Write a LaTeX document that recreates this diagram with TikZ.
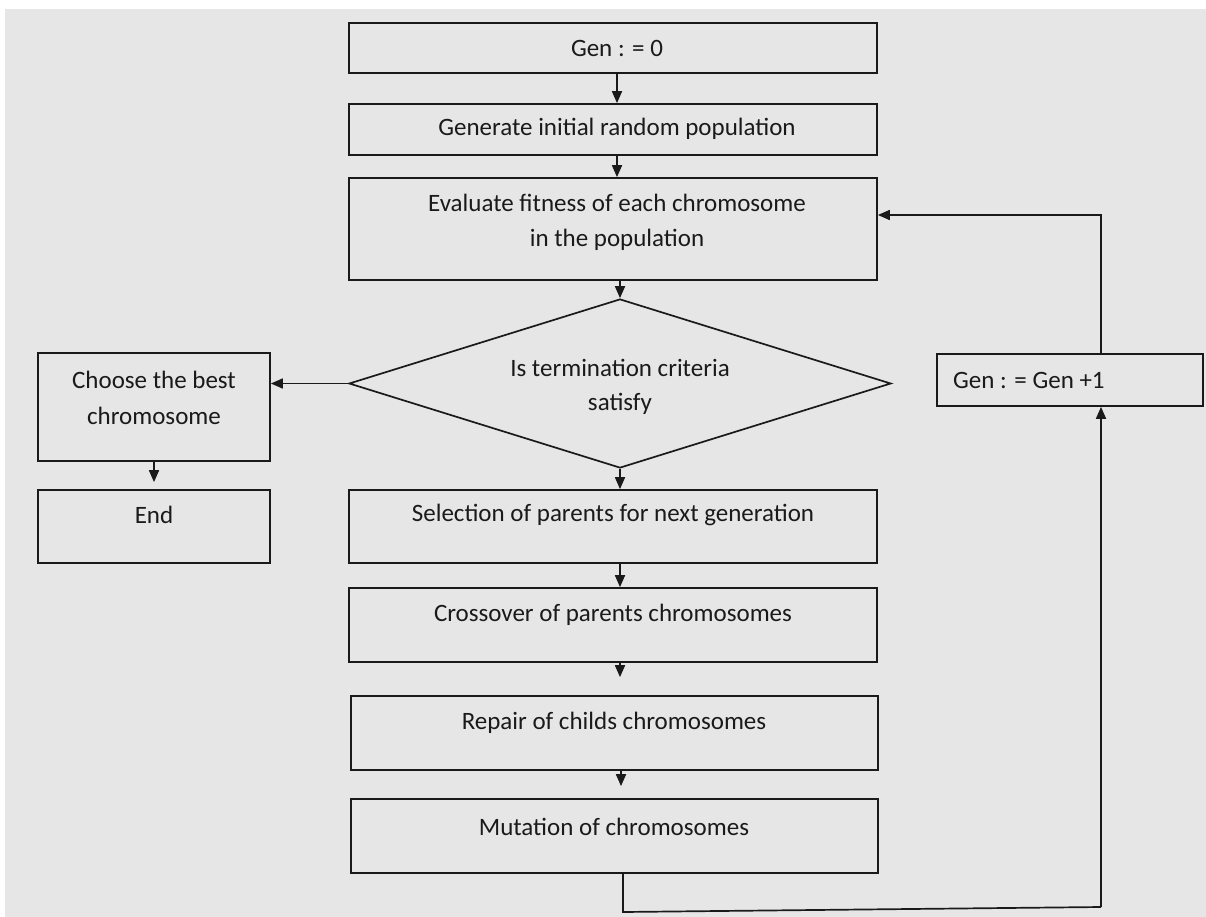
\documentclass[tikz,border=0pt]{standalone}
\usepackage{fontspec}
\setmainfont{Carlito}
\usetikzlibrary{arrows.meta,shapes.geometric,calc}
\definecolor{bggray}{HTML}{E6E6E6}
\definecolor{ink}{HTML}{1A1A1A}
\begin{document}
\begin{tikzpicture}[x=1pt,y=-1pt,
  box/.style={draw=ink, line width=1.7pt, rectangle, inner sep=0pt},
  txt/.style={font=\fontsize{25}{30}\selectfont, text=ink, inner sep=0pt, anchor=center},
  conn/.style={draw=ink, line width=1.7pt, -{Triangle[width=10pt,length=12pt]}},
  plain/.style={draw=ink, line width=1.7pt}]
\useasboundingbox (0,0) rectangle (1206,917);
\fill[white] (0,0) rectangle (1206,917);
\fill[bggray] (5,9) rectangle (1206,917);
% boxes
\node[box, minimum width=528pt, minimum height=50pt] (gen0) at (613,48) {};
\node[box, minimum width=528pt, minimum height=51pt] (init) at (613,129.5) {};
\node[box, minimum width=528pt, minimum height=102pt] (eval) at (613,229) {};
\node[box, shape=diamond, aspect=3.2, minimum width=542pt, minimum height=169pt, inner sep=0pt] (dec) at (620,383.5) {};
\node[box, minimum width=232pt, minimum height=108pt] (best) at (154,407) {};
\node[box, minimum width=232pt, minimum height=73pt] (endb) at (154,526.5) {};
\node[box, minimum width=528pt, minimum height=73pt] (sel) at (613,526.5) {};
\node[box, minimum width=528pt, minimum height=74pt] (cross) at (613,625) {};
\node[box, minimum width=527pt, minimum height=74pt] (rep) at (614.5,733) {};
\node[box, minimum width=527pt, minimum height=74pt] (mut) at (614.5,836) {};
\node[box, minimum width=266pt, minimum height=52pt] (inc) at (1070,380) {};
% texts
\node[txt] (t0) at (617,48) {Gen : = 0};
\node[txt] (t1) at (617,129) {Generate initial random population};
\node[txt] (t2a) at (617,203) {Evaluate fitness of each chromosome};
\node[txt] (t2b) at (617,240) {in the population};
\node[txt] (t3a) at (620,368) {Is termination criteria};
\node[txt] (t3b) at (620,404) {satisfy};
\node[txt] (t4a) at (154,380) {Choose the best};
\node[txt] (t4b) at (154,416) {chromosome};
\node[txt] (t5) at (154,515) {End};
\node[txt] (t6) at (613,515) {Selection of parents for next generation};
\node[txt] (t7) at (613,615) {Crossover of parents chromosomes};
\node[txt] (t8) at (614,723) {Repair of childs chromosomes};
\node[txt] (t9) at (614,827) {Mutation of chromosomes};
\node[txt, anchor=west] (t10) at (953,380) {Gen : = Gen +1};
% connectors
\draw[conn] (gen0.south -| 617,0) -- (init.north -| 617,0);
\draw[conn] (init.south -| 617,0) -- (eval.north -| 617,0);
\draw[conn] (eval.south -| 620,0) -- (dec.north);
\draw[conn] (dec.south) -- (sel.north -| 620,0);
\draw[conn] (sel.south -| 620,0) -- (cross.north -| 620,0);
\draw[conn, shorten >=18pt] (cross.south -| 620,0) -- (rep.north -| 620,0);
\draw[conn, shorten >=12pt] (rep.south -| 621,0) -- (mut.north -| 621,0);
\draw[conn, shorten >=7pt] (best.south) -- (endb.north);
\draw[conn] (dec.west) -- (dec.west -| best.east);
\coordinate (c1) at (623,912);
\coordinate (c2) at (1101,907);
\draw[plain] (mut.south -| 623,0) -- (c1) -- (c2);
\draw[conn] (c2) -- (inc.south -| 1101,0);
\coordinate (c3) at (1101,215);
\draw[conn] (inc.north -| 1101,0) -- (c3) -- (c3 -| eval.east);
\end{tikzpicture}
\end{document}
